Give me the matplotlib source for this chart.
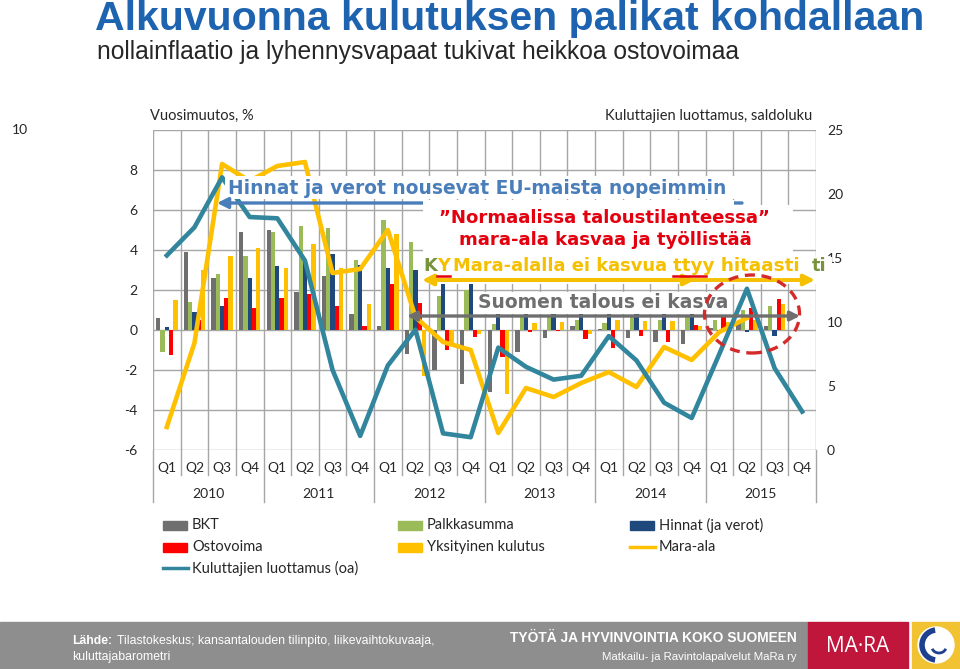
import numpy as np
import matplotlib
matplotlib.use('Agg')
import matplotlib.pyplot as plt
import matplotlib.transforms as mtransforms
from matplotlib.patches import Rectangle, Ellipse, FancyArrowPatch, Arc
from matplotlib.lines import Line2D

W, H = 960, 669

quarters = ['Q1', 'Q2', 'Q3', 'Q4'] * 6
years = ['2010', '2011', '2012', '2013', '2014', '2015']

# vuosimuutos, % (vasen akseli)
bkt = [0.6, 3.9, 2.6, 4.9, 5.0, 1.9, 2.7, 0.8, 0.2, -1.2, -2.0, -2.7,
       -3.1, -1.1, -0.4, 0.2, 0.05, -0.4, -0.6, -0.7, 0.1, 0.4, 0.2]
palkkasumma = [-1.1, 1.4, 2.8, 3.7, 4.9, 5.2, 5.1, 3.5, 5.5, 4.4, 1.7, 2.0,
               0.3, 0.75, 0.65, 0.5, 0.35, 0.65, 0.5, 0.65, 0.5, 1.0, 1.2]
hinnat = [0.15, 0.9, 1.2, 2.6, 3.2, 3.4, 3.8, 3.25, 3.1, 3.0, 3.0, 2.8,
          1.7, 1.6, 1.5, 1.3, 1.2, 1.1, 1.1, 0.9, -0.1, -0.1, -0.3]
ostovoima = [-1.25, 0.5, 1.6, 1.1, 1.6, 1.8, 1.2, 0.2, 2.3, 1.35, -1.0, -0.35,
             -1.35, -0.1, -0.05, -0.45, -0.9, -0.3, -0.6, 0.25, 0.7, 1.1, 1.55]
kulutus = [1.5, 3.0, 3.7, 4.1, 3.1, 4.3, 3.1, 1.3, 4.8, -2.3, -0.8, -0.2,
           -3.2, 0.35, 0.4, -0.2, 0.5, 0.45, 0.45, 0.2, 0.4, 0.5, 1.3]
mara_ala = [-4.85, -0.65, 8.3, 7.45, 8.2, 8.4, 2.85, 3.05, 5.0, 0.65, -0.6, -1.0,
            -5.15, -2.9, -3.35, -2.65, -2.1, -2.85, -0.85, -1.5, -0.1, 0.6]
# saldoluku (oikea akseli)
luottamus = [15.2, 17.4, 21.3, 18.2, 18.1, 14.8, 6.25, 1.1, 6.6, 9.4, 1.3, 1.0,
             8.0, 6.5, 5.5, 5.8, 8.9, 7.0, 3.7, 2.5, 7.5, 12.6, 6.4, 3.0]

plt.rcParams['font.family'] = ['Lato', 'DejaVu Sans']
txt_col = '#262626'
grid_col = '#A6A6A6'


def fx(x):
    return x / W


def fy(y):
    return 1 - y / H


fig = plt.figure(figsize=(9.6, 6.69), dpi=100)
ax = fig.add_axes([fx(153), fy(450), (816 - 153) / W, 320 / H])

x = np.arange(24)
series = [(bkt, '#6F6F6F'), (palkkasumma, '#9BBB59'), (hinnat, '#1F497D'),
          (ostovoima, '#FF0000'), (kulutus, '#FFC000')]
w = 0.155
for i, (vals, c) in enumerate(series):
    ax.bar(x[:len(vals)] + (i - 2) * w, vals, w, color=c, zorder=2)

ax.plot(x[:len(mara_ala)], mara_ala, color='#FFC000', lw=3.3, zorder=3,
        solid_joinstyle='round')

ax.set_xlim(-0.5, 23.5)
ax.set_ylim(-6, 10)
ax.set_yticks(range(-6, 11, 2))
ax.set_yticklabels(['-6', '-4', '-2', '0', '2', '4', '6', '8', ''])
ax.set_xticks(x)
ax.set_xticklabels(quarters)
ax.set_xticks(np.arange(-0.5, 24, 1), minor=True)
ax.grid(True, which='major', axis='y', color=grid_col, lw=1)
ax.grid(True, which='minor', axis='x', color=grid_col, lw=1)
ax.set_axisbelow(True)
ax.tick_params(which='both', length=0, labelsize=10, colors=txt_col)
ax.tick_params(axis='x', pad=9)
ax.tick_params(axis='y', pad=11)
for s in ax.spines.values():
    s.set_visible(False)

ax2 = ax.twinx()
ax2.plot(x, luottamus, color='#31859C', lw=3.3, solid_joinstyle='round')
ax2.set_ylim(0, 25)
ax2.set_yticks(range(0, 26, 5))
ax2.tick_params(length=0, labelsize=10, colors=txt_col, pad=8)
for s in ax2.spines.values():
    s.set_visible(False)

# kaksitasoinen x-akseli
blend = mtransforms.blended_transform_factory(ax.transData, ax.transAxes)
for b in np.arange(-0.5, 24, 1):
    low = -0.1625 if (b + 0.5) % 4 == 0 else -0.078
    ax.plot([b, b], [0, low], transform=blend, color=grid_col, lw=1, clip_on=False)
for i, yr in enumerate(years):
    ax.text(1.5 + 4 * i, -0.1375, yr, transform=blend, ha='center', va='center',
            fontsize=10, color=txt_col)

fig.text(fx(20), fy(130), '10', ha='center', va='center', fontsize=10, color=txt_col)
fig.text(fx(150), fy(116), 'Vuosimuutos, %', ha='left', va='center', fontsize=10.5, color=txt_col)
fig.text(fx(812), fy(116), 'Kuluttajien luottamus, saldoluku', ha='right', va='center',
         fontsize=10.5, color=txt_col)

# otsikot
fig.text(fx(95), fy(30), 'Alkuvuonna kulutuksen palikat kohdallaan', ha='left', va='baseline',
         fontsize=29.5, fontweight='bold', color='#1E63B0', family='Liberation Sans')
fig.text(fx(97), fy(59), 'nollainflaatio ja lyhennysvapaat tukivat heikkoa ostovoimaa',
         ha='left', va='baseline', fontsize=17.7, color=txt_col, family='Liberation Sans')

# selite
leg_items = [
    ('BKT', '#6F6F6F', 'bar', 163, 525), ('Palkkasumma', '#9BBB59', 'bar', 398, 525),
    ('Hinnat (ja verot)', '#1F497D', 'bar', 630, 525),
    ('Ostovoima', '#FF0000', 'bar', 163, 547), ('Yksityinen kulutus', '#FFC000', 'bar', 398, 547),
    ('Mara-ala', '#FFC000', 'line', 630, 547),
    ('Kuluttajien luottamus (oa)', '#31859C', 'line', 163, 568),
]
for lab, c, kind, lx, ly in leg_items:
    if kind == 'bar':
        fig.add_artist(Rectangle((fx(lx), fy(ly + 4.5)), 24 / W, 9 / H,
                                 transform=fig.transFigure, color=c))
    else:
        fig.add_artist(Line2D([fx(lx), fx(lx + 25)], [fy(ly), fy(ly)],
                              transform=fig.transFigure, color=c, lw=2.5))
    fig.text(fx(lx + 29), fy(ly), lab, ha='left', va='center', fontsize=10.5, color=txt_col)


# huomiotekstit
def white_box(x0, y0, x1, y1, z=5):
    fig.add_artist(Rectangle((fx(x0), fy(y1)), (x1 - x0) / W, (y1 - y0) / H,
                             transform=fig.transFigure, facecolor='white',
                             edgecolor='none', zorder=z))


def arrow(x0, y0, x1, y1, c, style, lw=2.4, ms=14, z=6):
    fig.add_artist(FancyArrowPatch((fx(x0), fy(y0)), (fx(x1), fy(y1)),
                                   transform=fig.transFigure, arrowstyle=style,
                                   mutation_scale=ms, color=c, lw=lw, zorder=z,
                                   shrinkA=0, shrinkB=0))


ann = dict(family='DejaVu Sans', fontweight='bold', zorder=7, va='center')
blue = '#4A7EBB'
red = '#E3000F'
gold = '#F5C000'
olive = '#77933C'
grey = '#6E6E6E'

white_box(225, 176, 742, 199)
arrow(742, 203, 217, 203, blue, '-|>', lw=2.4, ms=16, z=5.5)
fig.text(fx(228), fy(188), 'Hinnat ja verot nousevat EU-maista nopeimmin', ha='left',
         fontsize=13.4, color=blue, **ann)

white_box(423, 200, 734, 257, z=6)
white_box(734, 205, 793, 257, z=6)
fig.text(fx(604), fy(218), '\u201dNormaalissa taloustilanteessa\u201d', ha='center',
         fontsize=13.1, color=red, **ann)
fig.text(fx(605), fy(240), 'mara-ala kasvaa ja työllistää', ha='center',
         fontsize=13.1, color=red, **ann)

white_box(420, 257, 832, 284, z=6)
fs = 12.9
fig.text(fx(423), fy(266), 'K', ha='left', fontsize=fs, color=olive, **ann)
fig.text(fx(437), fy(266), 'Y', ha='left', fontsize=fs, color=gold, **ann)
fig.text(fx(453), fy(266), 'Mara-alalla ei kasvua', ha='left', fontsize=fs, color=gold, **ann)
fig.text(fx(673), fy(266), 'ttyy hitaasti', ha='left', fontsize=13.2, color=gold, **ann)
fig.text(fx(812), fy(266), 'ti', ha='left', fontsize=fs, color=olive, **ann)
for ux0, ux1 in [(437, 450), (673, 706)]:
    fig.add_artist(Line2D([fx(ux0), fx(ux1)], [fy(276), fy(276)], transform=fig.transFigure,
                          color=red, lw=1.8, zorder=7))
arrow(440, 280, 815, 280, gold, '-|>', lw=2.8, ms=16, z=6.5)
arrow(422, 280, 695, 280, gold, '<|-|>', lw=2.8, ms=16, z=6.5)

white_box(476, 292, 732, 314, z=6)
fig.text(fx(478), fy(303), 'Suomen talous ei kasva', ha='left', fontsize=13.5, color=grey, **ann)
arrow(407, 316, 800, 316, grey, '<|-|>', lw=2.4, ms=14, z=6.5)

fig.add_artist(Ellipse((fx(752), fy(314)), 95 / W, 78 / H, transform=fig.transFigure,
                       fill=False, ec='#D42A2A', lw=2.4, ls=(0, (3, 2)), zorder=8))

# alapalkki
band_h = (H - 622) / H
fig.add_artist(Rectangle((0, 0), fx(808), band_h, transform=fig.transFigure,
                         color='#8E8E8E', zorder=1))
fig.add_artist(Rectangle((fx(808), 0), 100 / W, band_h, transform=fig.transFigure,
                         color='#C0163C', zorder=1))
fig.add_artist(Rectangle((fx(912), 0), 48 / W, band_h, transform=fig.transFigure,
                         color='#F1C232', zorder=1))
fig.add_artist(Ellipse((fx(936), fy(645)), 36 / W, 36 / H, transform=fig.transFigure,
                       color='white', zorder=2))
fig.add_artist(Arc((fx(937), fy(645)), 30 / W, 30 / H, theta1=95, theta2=265,
                   transform=fig.transFigure, color='#1F3F8F', lw=4, zorder=3))
fig.add_artist(Arc((fx(939), fy(647)), 14 / W, 12 / H, theta1=200, theta2=340,
                   transform=fig.transFigure, color='#1F3F8F', lw=2, zorder=3))

foot = dict(color='white', va='center', family='Liberation Sans', zorder=2)
fig.text(fx(72), fy(641), 'Lähde:', ha='left', fontsize=8.8, fontweight='bold', **foot)
fig.text(fx(117), fy(641), 'Tilastokeskus; kansantalouden tilinpito, liikevaihtokuvaaja,',
         ha='left', fontsize=8.8, **foot)
fig.text(fx(72), fy(657), 'kuluttajabarometri', ha='left', fontsize=8.8, **foot)
fig.text(fx(797), fy(638), 'TYÖTÄ JA HYVINVOINTIA KOKO SUOMEEN', ha='right', fontsize=9.9,
         fontweight='bold', **foot)
fig.text(fx(797), fy(657), 'Matkailu- ja Ravintolapalvelut MaRa ry', ha='right',
         fontsize=8.2, **foot)
fig.text(fx(858), fy(646), 'MA·RA', ha='center', fontsize=15, color='white', va='center',
         family='Open Sans', zorder=2)

fig.savefig('out.png', dpi=100)
